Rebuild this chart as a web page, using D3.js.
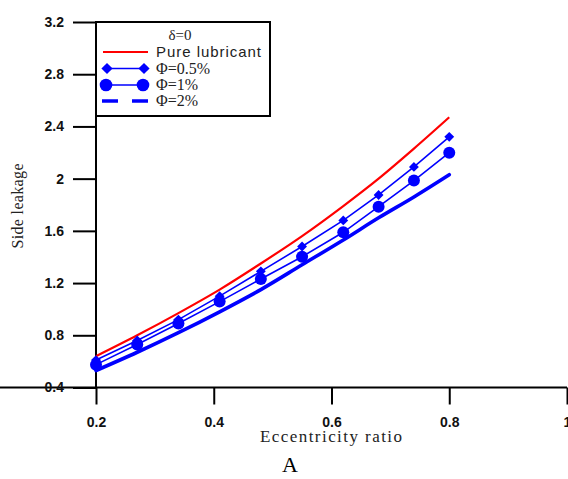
<!DOCTYPE html>
<html>
<head>
<meta charset="utf-8">
<script src="https://cdn.jsdelivr.net/npm/d3@7"></script>
<style>
  html, body { margin: 0; padding: 0; background: #fff; }
  svg { display: block; }
</style>
</head>
<body>
<svg id="chart" width="568" height="479"></svg>
<script>
// Eccentricity ratio at which the curves are sampled
const eccentricity = [0.2, 0.27, 0.34, 0.41, 0.48, 0.55, 0.62, 0.68, 0.74, 0.8];
// Side leakage, one array per case
const pureLubricant = [0.64, 0.80, 0.97, 1.15, 1.35, 1.56, 1.79, 2.00, 2.23, 2.47];
const phi05 = [0.61, 0.76, 0.92, 1.10, 1.29, 1.48, 1.68, 1.875, 2.09, 2.32];
const phi1 = [0.575, 0.73, 0.89, 1.058, 1.231, 1.402, 1.589, 1.785, 1.985, 2.199];
const phi2 = [0.53, 0.67, 0.82, 0.98, 1.15, 1.34, 1.53, 1.70, 1.86, 2.03];

const xTicks = [0.2, 0.4, 0.6, 0.8, 1];
const yTicks = [0.4, 0.8, 1.2, 1.6, 2, 2.4, 2.8, 3.2];
const legendTitle = "δ=0";
const seriesNames = ["Pure lubricant", "Φ=0.5%", "Φ=1%", "Φ=2%"];
const xTitle = "Eccentricity ratio";
const yTitle = "Side leakage";
const panelLabel = "A";

const svg = d3.select("#chart");
const x = d3.scaleLinear().domain([0.2, 1]).range([96, 567]);
const y = d3.scaleLinear().domain([0.4, 3.2]).range([387.5, 22]);

const RED = "#ff0000", BLUE = "#0000ff";
const tickFont = "'Liberation Sans', Arial, sans-serif";
const serif = "'Liberation Serif', 'Times New Roman', serif";

// Axes
const xAxis = svg.append("g").attr("transform", `translate(0,${y(0.4)})`)
  .call(d3.axisBottom(x).tickValues(xTicks).tickSize(17).tickPadding(13)
    .tickFormat(d3.format("")));
const yAxis = svg.append("g").attr("transform", `translate(${x(0.2)},0)`)
  .call(d3.axisLeft(y).tickValues(yTicks).tickSize(23).tickPadding(9)
    .tickFormat(d => d3.format("")(d)));
[xAxis, yAxis].forEach(g => {
  g.select(".domain").attr("stroke", "#000").attr("stroke-width", 2);
  g.selectAll(".tick line").attr("stroke", "#000").attr("stroke-width", 2);
  g.selectAll(".tick text").attr("fill", "#111")
    .style("font-family", tickFont).style("font-size", "14px").style("font-weight", "bold");
});
yAxis.select(".domain").attr("d", `M0,${y(0.4)}V${y(3.2)}`);
xAxis.select(".domain").attr("d", `M0,0H${x(1)}`);

// Series
const pts = vals => eccentricity.map((e, i) => [e, vals[i]]);
const lineLinear = d3.line().x(d => x(d[0])).y(d => y(d[1]));
const lineSmooth = d3.line().x(d => x(d[0])).y(d => y(d[1])).curve(d3.curveMonotoneX);

svg.append("path").datum(pts(phi2)).attr("d", lineSmooth)
  .attr("fill", "none").attr("stroke", BLUE).attr("stroke-width", 3.6).attr("stroke-linecap", "round");

svg.append("path").datum(pts(phi1)).attr("d", lineLinear)
  .attr("fill", "none").attr("stroke", BLUE).attr("stroke-width", 1.6);
svg.append("path").datum(pts(phi05)).attr("d", lineLinear)
  .attr("fill", "none").attr("stroke", BLUE).attr("stroke-width", 1.6);
svg.append("path").datum(pts(pureLubricant)).attr("d", lineSmooth)
  .attr("fill", "none").attr("stroke", RED).attr("stroke-width", 2.2);

const diamond = d3.symbol().type(d3.symbolDiamond2).size(62);
svg.append("g").selectAll("circle").data(pts(phi1)).join("circle")
  .attr("cx", d => x(d[0])).attr("cy", d => y(d[1])).attr("r", 6).attr("fill", BLUE);
svg.append("g").selectAll("path").data(pts(phi05)).join("path")
  .attr("d", diamond).attr("transform", d => `translate(${x(d[0])},${y(d[1])})`)
  .attr("fill", BLUE);

// Legend
const lg = svg.append("g");
lg.append("rect").attr("x", 96).attr("y", 22).attr("width", 174).attr("height", 94)
  .attr("fill", "#fff").attr("stroke", "#000").attr("stroke-width", 2);
lg.append("text").attr("x", 180).attr("y", 40).attr("text-anchor", "middle")
  .style("font-family", serif).style("font-size", "15px").attr("fill", "#222").text(legendTitle);
const rows = [52, 68.5, 85, 101];
lg.append("line").attr("x1", 103).attr("x2", 148).attr("y1", rows[0]).attr("y2", rows[0])
  .attr("stroke", RED).attr("stroke-width", 2);
lg.append("line").attr("x1", 107).attr("x2", 144).attr("y1", rows[1]).attr("y2", rows[1])
  .attr("stroke", BLUE).attr("stroke-width", 1.6);
[107, 144].forEach(cx => lg.append("path").attr("d", d3.symbol().type(d3.symbolDiamond2).size(80))
  .attr("transform", `translate(${cx},${rows[1]})`).attr("fill", BLUE));
lg.append("line").attr("x1", 106).attr("x2", 143).attr("y1", rows[2]).attr("y2", rows[2])
  .attr("stroke", BLUE).attr("stroke-width", 1.6);
[106, 143].forEach(cx => lg.append("circle").attr("cx", cx).attr("cy", rows[2]).attr("r", 6.3).attr("fill", BLUE));
lg.append("line").attr("x1", 102).attr("x2", 148).attr("y1", rows[3]).attr("y2", rows[3])
  .attr("stroke", BLUE).attr("stroke-width", 3.6).attr("stroke-dasharray", "16,14");

lg.selectAll("text.item").data(seriesNames).join("text").attr("class", "item")
  .attr("x", 156).attr("y", (d, i) => rows[i] + 5)
  .style("font-family", (d, i) => i === 0 ? tickFont : serif)
  .style("font-size", (d, i) => i === 0 ? "15px" : "16px")
  .attr("fill", "#222").text(d => d)
  .each(function (d, i) { if (i === 0) d3.select(this).attr("textLength", 105); });

// Axis titles
svg.append("text").attr("x", 331).attr("y", 442).attr("text-anchor", "middle")
  .attr("textLength", 142)
  .style("font-family", serif).style("font-size", "17px").attr("fill", "#222").text(xTitle);
svg.append("text").attr("transform", "translate(23,206) rotate(-90)").attr("text-anchor", "middle")
  .attr("textLength", 85)
  .style("font-family", serif).style("font-size", "16px").attr("fill", "#222").text(yTitle);
svg.append("text").attr("x", 290).attr("y", 472).attr("text-anchor", "middle")
  .style("font-family", serif).style("font-size", "22px").attr("fill", "#000").text(panelLabel);
</script>
</body>
</html>
